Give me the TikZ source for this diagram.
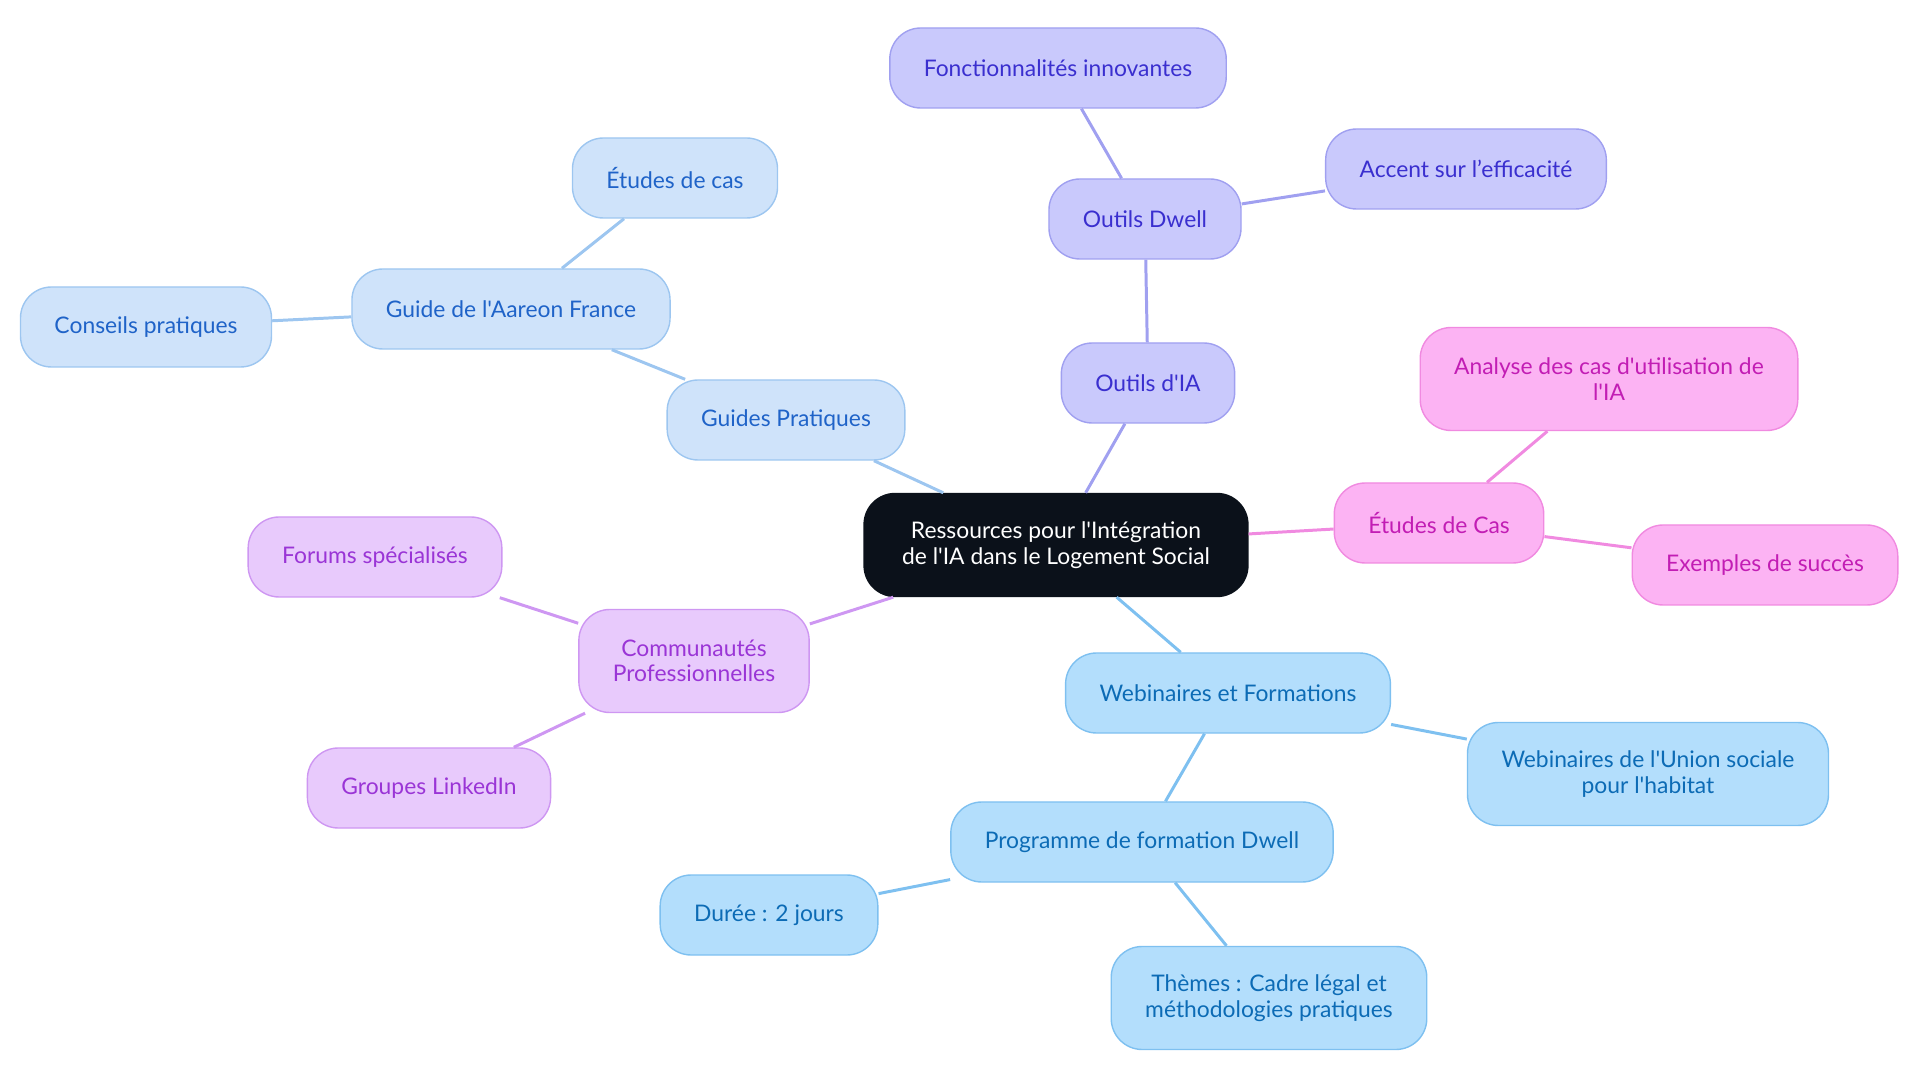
\documentclass[tikz,border=0pt]{standalone}
\usepackage{fontspec}
\setmainfont{Lato}[Ligatures=TeXOff]
\usepackage{xcolor}
\usepackage{tikz}
\usetikzlibrary{positioning}
\definecolor{rootfill}{HTML}{0B111A}
\definecolor{guidefill}{HTML}{CFE3FA}
\definecolor{guidedraw}{HTML}{9DC6F0}
\definecolor{guidetext}{HTML}{1F63C8}
\definecolor{toolfill}{HTML}{C9C9FC}
\definecolor{tooldraw}{HTML}{A0A0F0}
\definecolor{tooltext}{HTML}{3A2FCF}
\definecolor{casefill}{HTML}{FCB3F3}
\definecolor{casedraw}{HTML}{F08AE0}
\definecolor{casetext}{HTML}{C21DB4}
\definecolor{commfill}{HTML}{E8CAFC}
\definecolor{commdraw}{HTML}{CE97F2}
\definecolor{commtext}{HTML}{9A35D6}
\definecolor{webfill}{HTML}{B3DEFC}
\definecolor{webdraw}{HTML}{7EC0F0}
\definecolor{webtext}{HTML}{0C6BB5}

\begin{document}
\begin{tikzpicture}[x=0.2mm,y=-0.2mm,
    bubble/.style={rounded corners=0.62cm,line width=0.8pt,align=center,
      inner xsep=0.68cm,minimum height=1.6cm,font=\fontsize{13}{14.5}\selectfont},
    root/.style={bubble,fill=rootfill,draw=rootfill,text=white,minimum height=2.06cm,inner xsep=0.76cm},
    guide/.style={bubble,fill=guidefill,draw=guidedraw,text=guidetext},
    tool/.style={bubble,fill=toolfill,draw=tooldraw,text=tooltext},
    cases/.style={bubble,fill=casefill,draw=casedraw,text=casetext},
    comm/.style={bubble,fill=commfill,draw=commdraw,text=commtext},
    web/.style={bubble,fill=webfill,draw=webdraw,text=webtext},
    link/.style={line width=1.7pt}]
  \useasboundingbox (0,0) rectangle (1920,1083);

  \node[root] (res) at (1056,545) {Ressources pour l'Intégration\\de l'IA dans le Logement Social};

  \node[guide] (guides) at (786,420) {Guides Pratiques};
  \node[guide] (aareon) at (511,309) {Guide de l'Aareon France};
  \node[guide] (etudes) at (675,178) {Études de cas};
  \node[guide] (conseils) at (146,327) {Conseils pratiques};

  \node[tool] (outils) at (1148,383) {Outils d'IA};
  \node[tool] (dwell) at (1145,219) {Outils Dwell};
  \node[tool] (fonct) at (1058,68) {Fonctionnalités innovantes};
  \node[tool] (accent) at (1466,169) {Accent sur l’efficacité};

  \node[cases] (cas) at (1439,523) {Études de Cas};
  \node[cases,minimum height=2.06cm] (analyse) at (1609,379) {Analyse des cas d'utilisation de\\l'IA};
  \node[cases] (succes) at (1765,565) {Exemples de succès};

  \node[comm,minimum height=2.06cm] (commu) at (694,661) {Communautés\\Professionnelles};
  \node[comm] (forums) at (375,557) {Forums spécialisés};
  \node[comm] (linkedin) at (429,788) {Groupes LinkedIn};

  \node[web] (webi) at (1228,693) {Webinaires et Formations};
  \node[web,minimum height=2.06cm] (union) at (1648,774) {Webinaires de l'Union sociale\\pour l'habitat};
  \node[web] (prog) at (1142,842) {Programme de formation Dwell};
  \node[web] (duree) at (769,915) {Durée : 2 jours};
  \node[web,minimum height=2.06cm] (themes) at (1269,998) {Thèmes : Cadre légal et\\méthodologies pratiques};

  \draw[link,guidedraw] (res) -- (guides);
  \draw[link,guidedraw] (guides) -- (aareon);
  \draw[link,guidedraw] (aareon) -- (etudes);
  \draw[link,guidedraw] (aareon) -- (conseils);
  \draw[link,tooldraw] (res) -- (outils);
  \draw[link,tooldraw] (outils) -- (dwell);
  \draw[link,tooldraw] (dwell) -- (fonct);
  \draw[link,tooldraw] (dwell) -- (accent);
  \draw[link,casedraw] (res) -- (cas);
  \draw[link,casedraw] (cas) -- (analyse);
  \draw[link,casedraw] (cas) -- (succes);
  \draw[link,commdraw] (res) -- (commu);
  \draw[link,commdraw] (commu) -- (forums);
  \draw[link,commdraw] (commu) -- (linkedin);
  \draw[link,webdraw] (res) -- (webi);
  \draw[link,webdraw] (webi) -- (union);
  \draw[link,webdraw] (webi) -- (prog);
  \draw[link,webdraw] (prog) -- (duree);
  \draw[link,webdraw] (prog) -- (themes);
\end{tikzpicture}
\end{document}
